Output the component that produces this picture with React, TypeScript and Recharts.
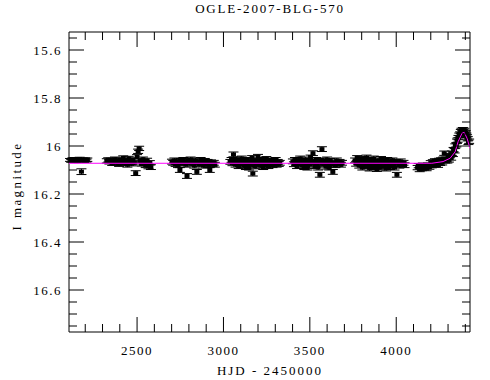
import React from 'react';
import { ComposedChart, Scatter, XAxis, YAxis, ErrorBar } from 'recharts';

// [HJD - 2450000, I mag, error] per observing season
const SEASON_2001: number[][] = [
  [2112, 16.058, 0.006], [2119, 16.062, 0.006], [2126, 16.055, 0.006], [2133, 16.061, 0.006],
  [2140, 16.056, 0.007], [2147, 16.063, 0.006], [2154, 16.057, 0.006], [2160, 16.06, 0.006],
  [2168, 16.054, 0.007], [2178, 16.107, 0.012], [2186, 16.059, 0.006], [2193, 16.062, 0.006],
  [2200, 16.056, 0.006], [2207, 16.061, 0.006], [2212, 16.057, 0.007],
];
const SEASON_2002: number[][] = [
  [2325, 16.062, 0.009], [2333, 16.058, 0.009], [2340, 16.066, 0.009], [2348, 16.06, 0.009],
  [2356, 16.072, 0.009], [2364, 16.065, 0.01], [2372, 16.055, 0.009], [2380, 16.07, 0.009],
  [2388, 16.062, 0.009], [2396, 16.075, 0.01], [2404, 16.058, 0.009], [2412, 16.068, 0.009],
  [2420, 16.05, 0.009], [2428, 16.072, 0.009], [2436, 16.06, 0.009], [2444, 16.078, 0.01],
  [2452, 16.052, 0.009], [2460, 16.066, 0.009], [2468, 16.074, 0.009], [2476, 16.058, 0.009],
  [2484, 16.07, 0.009], [2492, 16.113, 0.01], [2500, 16.045, 0.009], [2506, 16.022, 0.009],
  [2512, 16.01, 0.009], [2518, 16.062, 0.009], [2526, 16.075, 0.009], [2534, 16.055, 0.009],
  [2542, 16.068, 0.009], [2550, 16.08, 0.01], [2558, 16.06, 0.009], [2566, 16.085, 0.01],
  [2574, 16.07, 0.009], [2580, 16.088, 0.01],
];
const SEASON_2003: number[][] = [
  [2702, 16.065, 0.01], [2709, 16.07, 0.01], [2716, 16.06, 0.01], [2723, 16.075, 0.01],
  [2730, 16.066, 0.01], [2737, 16.08, 0.01], [2748, 16.1, 0.01], [2752, 16.062, 0.01],
  [2760, 16.072, 0.01], [2768, 16.058, 0.01], [2776, 16.068, 0.01], [2782, 16.078, 0.01],
  [2789, 16.125, 0.01], [2796, 16.062, 0.01], [2803, 16.07, 0.01], [2810, 16.056, 0.01],
  [2817, 16.074, 0.01], [2824, 16.064, 0.01], [2831, 16.082, 0.01], [2838, 16.06, 0.01],
  [2846, 16.108, 0.01], [2852, 16.068, 0.01], [2860, 16.076, 0.01], [2868, 16.058, 0.01],
  [2876, 16.07, 0.01], [2884, 16.082, 0.01], [2892, 16.062, 0.01], [2900, 16.074, 0.01],
  [2908, 16.066, 0.01], [2914, 16.08, 0.01], [2921, 16.1, 0.01], [2928, 16.068, 0.01],
  [2936, 16.076, 0.01], [2944, 16.07, 0.01], [2950, 16.078, 0.01],
];
const SEASON_2004: number[][] = [
  [3040, 16.066, 0.01], [3047, 16.058, 0.01], [3052, 16.072, 0.01], [3058, 16.035, 0.01],
  [3064, 16.062, 0.01], [3070, 16.078, 0.01], [3076, 16.056, 0.01], [3082, 16.07, 0.01],
  [3088, 16.084, 0.01], [3094, 16.06, 0.01], [3100, 16.074, 0.01], [3106, 16.052, 0.01],
  [3112, 16.068, 0.01], [3118, 16.08, 0.01], [3124, 16.062, 0.01], [3130, 16.088, 0.01],
  [3136, 16.058, 0.01], [3142, 16.072, 0.01], [3148, 16.09, 0.01], [3154, 16.064, 0.01],
  [3160, 16.078, 0.01], [3166, 16.05, 0.01], [3170, 16.115, 0.01], [3176, 16.07, 0.01],
  [3182, 16.085, 0.01], [3188, 16.06, 0.01], [3194, 16.076, 0.01], [3200, 16.045, 0.01],
  [3206, 16.066, 0.01], [3212, 16.082, 0.01], [3218, 16.058, 0.01], [3224, 16.072, 0.01],
  [3230, 16.088, 0.01], [3236, 16.062, 0.01], [3242, 16.078, 0.01], [3248, 16.054, 0.01],
  [3254, 16.07, 0.01], [3260, 16.084, 0.01], [3266, 16.06, 0.01], [3272, 16.074, 0.01],
  [3278, 16.066, 0.01], [3284, 16.08, 0.01], [3290, 16.062, 0.01], [3296, 16.072, 0.01],
  [3302, 16.058, 0.01], [3308, 16.078, 0.01], [3314, 16.066, 0.01], [3320, 16.075, 0.01],
  [3326, 16.07, 0.01],
];
const SEASON_2005: number[][] = [
  [3402, 16.064, 0.01], [3408, 16.076, 0.01], [3414, 16.058, 0.01], [3420, 16.07, 0.01],
  [3426, 16.084, 0.01], [3432, 16.06, 0.01], [3438, 16.074, 0.01], [3444, 16.052, 0.01],
  [3450, 16.068, 0.01], [3456, 16.082, 0.01], [3462, 16.062, 0.01], [3468, 16.088, 0.01],
  [3474, 16.056, 0.01], [3480, 16.072, 0.01], [3486, 16.09, 0.01], [3492, 16.064, 0.01],
  [3498, 16.078, 0.01], [3504, 16.048, 0.01], [3510, 16.07, 0.01], [3518, 16.03, 0.01],
  [3524, 16.066, 0.01], [3530, 16.084, 0.01], [3536, 16.058, 0.01], [3542, 16.074, 0.01],
  [3548, 16.09, 0.01], [3552, 16.062, 0.01], [3558, 16.12, 0.01], [3564, 16.07, 0.01],
  [3570, 16.013, 0.01], [3576, 16.06, 0.01], [3582, 16.078, 0.01], [3588, 16.066, 0.01],
  [3594, 16.086, 0.01], [3600, 16.056, 0.01], [3606, 16.072, 0.01], [3612, 16.09, 0.01],
  [3618, 16.062, 0.01], [3624, 16.078, 0.01], [3633, 16.108, 0.01], [3640, 16.068, 0.01],
  [3648, 16.08, 0.01], [3656, 16.06, 0.01], [3664, 16.074, 0.01], [3672, 16.066, 0.01],
  [3680, 16.078, 0.01], [3686, 16.07, 0.01],
];
const SEASON_2006: number[][] = [
  [3762, 16.06, 0.01], [3768, 16.074, 0.01], [3774, 16.05, 0.01], [3780, 16.066, 0.01],
  [3786, 16.082, 0.01], [3792, 16.058, 0.01], [3798, 16.072, 0.01], [3804, 16.09, 0.01],
  [3810, 16.054, 0.01], [3816, 16.068, 0.01], [3822, 16.084, 0.01], [3828, 16.048, 0.01],
  [3834, 16.064, 0.01], [3840, 16.08, 0.01], [3846, 16.094, 0.01], [3852, 16.058, 0.01],
  [3858, 16.072, 0.01], [3864, 16.088, 0.01], [3870, 16.052, 0.01], [3876, 16.066, 0.01],
  [3882, 16.082, 0.01], [3888, 16.096, 0.01], [3894, 16.06, 0.01], [3900, 16.074, 0.01],
  [3906, 16.09, 0.01], [3912, 16.054, 0.01], [3918, 16.07, 0.01], [3924, 16.086, 0.01],
  [3930, 16.062, 0.01], [3936, 16.078, 0.01], [3942, 16.094, 0.01], [3948, 16.058, 0.01],
  [3954, 16.072, 0.01], [3960, 16.088, 0.01], [3966, 16.064, 0.01], [3972, 16.08, 0.01],
  [3978, 16.06, 0.01], [3984, 16.076, 0.01], [3990, 16.09, 0.01], [3996, 16.066, 0.01],
  [4004, 16.12, 0.01], [4010, 16.07, 0.01], [4018, 16.082, 0.01], [4026, 16.064, 0.01],
  [4034, 16.076, 0.01], [4042, 16.07, 0.01], [4048, 16.08, 0.01],
];
const SEASON_2007: number[][] = [
  [4124, 16.09, 0.009], [4130, 16.082, 0.009], [4136, 16.098, 0.009], [4142, 16.086, 0.009],
  [4148, 16.094, 0.009], [4154, 16.08, 0.009], [4160, 16.09, 0.009], [4168, 16.085, 0.009],
  [4176, 16.094, 0.009], [4184, 16.08, 0.009], [4192, 16.088, 0.009], [4200, 16.07, 0.009],
  [4206, 16.082, 0.009], [4212, 16.066, 0.009], [4218, 16.078, 0.009], [4224, 16.062, 0.009],
  [4230, 16.076, 0.009], [4236, 16.064, 0.009], [4242, 16.08, 0.009], [4248, 16.06, 0.009],
  [4254, 16.072, 0.009], [4260, 16.058, 0.009], [4266, 16.07, 0.009], [4272, 16.055, 0.009],
  [4278, 16.03, 0.009], [4284, 16.062, 0.009], [4290, 16.055, 0.009], [4296, 16.062, 0.009],
  [4300, 16.045, 0.009], [4305, 16.058, 0.009], [4312, 16.04, 0.009], [4318, 16.05, 0.009],
  [4322, 16.03, 0.009], [4328, 16.035, 0.009], [4332, 16.015, 0.009], [4338, 16.02, 0.009],
  [4342, 16.0, 0.009], [4348, 15.995, 0.009], [4352, 15.98, 0.009], [4356, 15.975, 0.009],
  [4360, 15.965, 0.009], [4365, 15.955, 0.009], [4370, 15.95, 0.009], [4374, 15.94, 0.009],
  [4378, 15.935, 0.009], [4382, 15.945, 0.009], [4386, 15.932, 0.009], [4390, 15.94, 0.009],
  [4394, 15.935, 0.009], [4398, 15.95, 0.009], [4402, 15.945, 0.009], [4406, 15.955, 0.009],
  [4410, 15.962, 0.009], [4414, 15.97, 0.009], [4418, 15.985, 0.009], [4422, 15.98, 0.009],
];

// microlensing model curve
const MODEL_HJD = [2106, 4206, 4271, 4312, 4341, 4358, 4381, 4393, 4410, 4427];
const MODEL_MAG = [16.072, 16.072, 16.065, 16.051, 16.024, 15.982, 15.947, 15.943, 15.968, 16.01];

const X_TICKS = [2200, 2300, 2400, 2500, 2600, 2700, 2800, 2900, 3000, 3100, 3200, 3300, 3400,
  3500, 3600, 3700, 3800, 3900, 4000, 4100, 4200, 4300, 4400];
const Y_TICKS = [15.55, 15.6, 15.65, 15.7, 15.75, 15.8, 15.85, 15.9, 15.95, 16, 16.05, 16.1,
  16.15, 16.2, 16.25, 16.3, 16.35, 16.4, 16.45, 16.5, 16.55, 16.6, 16.65, 16.7, 16.75];

const points = [SEASON_2001, SEASON_2002, SEASON_2003, SEASON_2004, SEASON_2005, SEASON_2006, SEASON_2007]
  .flat()
  .map(([x, y, err]) => ({ x, y, err }));
const model = MODEL_HJD.map((x, i) => ({ x, y: MODEL_MAG[i] }));

const FONT = '"Liberation Serif", serif';
const isMajorX = (v: number) => v % 500 === 0;
const isMajorY = (v: number) => Math.abs(v * 5 - Math.round(v * 5)) < 1e-6;

function BottomTick({ x, y, payload }: any) {
  const major = isMajorX(payload.value);
  return (
    <g>
      <line x1={x} x2={x} y1={y} y2={y - (major ? 15 : 8)} stroke="#000" />
      {major && (
        <text x={x} y={y + 23} textAnchor="middle" fontFamily={FONT} fontSize={13} letterSpacing={1.5} fill="#000">
          {payload.value}
        </text>
      )}
    </g>
  );
}

function TopTick({ x, y, payload }: any) {
  const major = isMajorX(payload.value);
  return <line x1={x} x2={x} y1={y} y2={y + (major ? 15 : 8)} stroke="#000" />;
}

function LeftTick({ x, y, payload }: any) {
  const major = isMajorY(payload.value);
  return (
    <g>
      <line x1={x} x2={x + (major ? 15 : 8)} y1={y} y2={y} stroke="#000" />
      {major && (
        <text x={x - 7} y={y + 5} textAnchor="end" fontFamily={FONT} fontSize={13} letterSpacing={1.5} fill="#000">
          {String(Math.round(payload.value * 10) / 10)}
        </text>
      )}
    </g>
  );
}

function RightTick({ x, y, payload }: any) {
  const major = isMajorY(payload.value);
  return <line x1={x} x2={x - (major ? 15 : 8)} y1={y} y2={y} stroke="#000" />;
}

const Dot = ({ cx, cy }: any) => <rect x={cx - 2.5} y={cy - 2} width={5} height={4} fill="#000" />;
const NoDot = () => <g />;

export default function App() {
  return (
    <div style={{ position: 'absolute', left: 0, top: 0, width: 490, height: 380, background: '#fff' }}>
      <div style={{ position: 'absolute', left: 0, width: 540, top: 1, textAlign: 'center', fontFamily: FONT, fontSize: 13, letterSpacing: 1.8 }}>
        OGLE-2007-BLG-570
      </div>
      <div style={{ position: 'absolute', left: 270 - 60, width: 120, top: 363, textAlign: 'center', fontFamily: FONT, fontSize: 13, letterSpacing: 2 }}>
        HJD - 2450000
      </div>
      <div style={{ position: 'absolute', left: 17 - 60, width: 120, top: 187 - 9, textAlign: 'center', fontFamily: FONT, fontSize: 13, letterSpacing: 2.4, transform: 'rotate(-90deg)' }}>
        I magnitude
      </div>
      <ComposedChart width={490} height={380} margin={{ top: 22, right: 10, bottom: 18, left: 9 }}>
        <XAxis xAxisId="b" orientation="bottom" type="number" dataKey="x" domain={[2106, 4427]} allowDataOverflow
          ticks={X_TICKS} interval={0} tickSize={0} tickMargin={0} tickLine={false} tick={<BottomTick />}
          height={30} axisLine={{ stroke: '#000' }} />
        <XAxis xAxisId="t" orientation="top" type="number" dataKey="x" domain={[2106, 4427]} allowDataOverflow
          ticks={X_TICKS} interval={0} tickSize={0} tickMargin={0} tickLine={false} tick={<TopTick />}
          height={10} axisLine={{ stroke: '#000' }} />
        <YAxis yAxisId="l" orientation="left" type="number" dataKey="y" domain={[15.525, 16.775]} reversed allowDataOverflow
          ticks={Y_TICKS} interval={0} tickSize={0} tickMargin={0} tickLine={false} tick={<LeftTick />}
          width={60} axisLine={{ stroke: '#000' }} />
        <YAxis yAxisId="r" orientation="right" type="number" dataKey="y" domain={[15.525, 16.775]} reversed allowDataOverflow
          ticks={Y_TICKS} interval={0} tickSize={0} tickMargin={0} tickLine={false} tick={<RightTick />}
          width={10} axisLine={{ stroke: '#000' }} />
        <Scatter xAxisId="b" yAxisId="l" data={points} shape={<Dot />} isAnimationActive={false}>
          <ErrorBar dataKey="err" direction="y" width={5} stroke="#000" strokeWidth={1} />
        </Scatter>
        <Scatter xAxisId="b" yAxisId="l" data={model} shape={<NoDot />} line={{ stroke: '#ff00ff', strokeWidth: 1 }}
          lineType="joint" isAnimationActive={false} />
      </ComposedChart>
    </div>
  );
}
